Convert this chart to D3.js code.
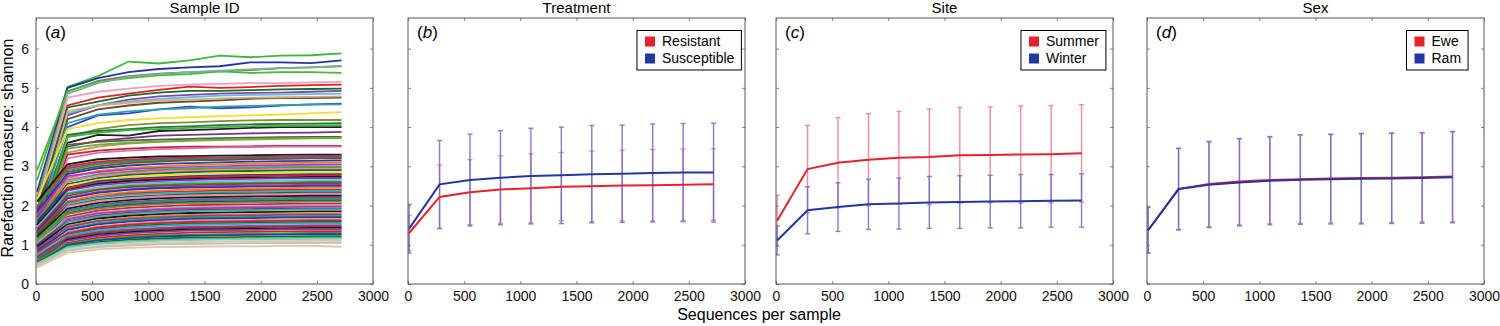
<!DOCTYPE html>
<html>
<head>
<meta charset="utf-8">
<script src="https://cdn.jsdelivr.net/npm/d3@7"></script>
<style>
  body { margin: 0; background: #fff; }
  svg { display: block; font-family: "Liberation Sans", Arial, sans-serif; }
</style>
</head>
<body>
<div id="chart"></div>
<script>
// Sequences per sample (rarefaction depths)
const depths = [10, 281, 552, 823, 1094, 1365, 1636, 1907, 2178, 2449, 2720];
const xTicks = [0, 500, 1000, 1500, 2000, 2500, 3000];
const yTicks = [0, 1, 2, 3, 4, 5, 6];

// (a) one curve per sample ID
const sampleCurves = [
  [2.65, 5.02, 5.30, 5.67, 5.62, 5.70, 5.82, 5.78, 5.82, 5.83, 5.88],
  [2.35, 5.00, 5.25, 5.40, 5.48, 5.52, 5.55, 5.65, 5.65, 5.63, 5.70],
  [2.20, 4.90, 5.18, 5.30, 5.36, 5.40, 5.42, 5.45, 5.50, 5.52, 5.55],
  [2.90, 4.92, 5.15, 5.25, 5.32, 5.35, 5.42, 5.38, 5.40, 5.40, 5.38],
  [2.10, 4.85, 5.12, 5.28, 5.35, 5.40, 5.44, 5.47, 5.50, 5.52, 5.56],
  [1.90, 4.75, 4.90, 4.98, 5.05, 5.08, 5.10, 5.12, 5.12, 5.14, 5.15],
  [1.80, 4.55, 4.75, 4.85, 4.95, 5.03, 5.00, 5.02, 5.05, 5.07, 5.08],
  [1.90, 4.50, 4.65, 4.80, 4.88, 4.92, 4.92, 4.94, 4.96, 4.97, 4.98],
  [1.70, 4.30, 4.55, 4.70, 4.78, 4.82, 4.85, 4.87, 4.88, 4.90, 4.92],
  [1.60, 4.35, 4.55, 4.65, 4.72, 4.76, 4.80, 4.82, 4.83, 4.84, 4.85],
  [1.80, 4.20, 4.45, 4.55, 4.62, 4.65, 4.68, 4.72, 4.74, 4.74, 4.75],
  [1.50, 4.40, 4.55, 4.62, 4.68, 4.70, 4.73, 4.75, 4.76, 4.77, 4.78],
  [1.70, 4.00, 4.30, 4.35, 4.45, 4.52, 4.48, 4.50, 4.55, 4.58, 4.60],
  [1.50, 4.10, 4.32, 4.40, 4.45, 4.48, 4.52, 4.54, 4.56, 4.57, 4.58],
  [2.15, 3.95, 4.10, 4.18, 4.22, 4.25, 4.28, 4.30, 4.32, 4.35, 4.38],
  [1.60, 3.75, 3.95, 4.05, 4.10, 4.12, 4.15, 4.17, 4.18, 4.18, 4.18],
  [1.40, 3.80, 3.90, 3.95, 4.00, 4.02, 4.05, 4.07, 4.08, 4.09, 4.10],
  [1.50, 3.60, 3.80, 3.78, 3.90, 3.92, 3.95, 3.98, 4.00, 4.00, 4.00],
  [1.30, 3.75, 3.85, 3.92, 3.95, 3.98, 4.00, 4.02, 4.03, 4.04, 4.05],
  [1.20, 3.50, 3.65, 3.72, 3.78, 3.80, 3.82, 3.84, 3.85, 3.86, 3.88],
  [1.30, 3.55, 3.62, 3.66, 3.68, 3.70, 3.72, 3.73, 3.74, 3.75, 3.75],
  [1.10, 3.35, 3.50, 3.58, 3.62, 3.65, 3.67, 3.68, 3.70, 3.71, 3.72],
  [1.20, 3.45, 3.55, 3.60, 3.63, 3.66, 3.68, 3.70, 3.71, 3.72, 3.72],
  [1.00, 3.30, 3.40, 3.45, 3.48, 3.50, 3.50, 3.51, 3.52, 3.52, 3.52],
  [1.10, 3.20, 3.35, 3.40, 3.44, 3.46, 3.48, 3.49, 3.50, 3.50, 3.50],
  [2.10, 3.05, 3.18, 3.22, 3.25, 3.26, 3.27, 3.28, 3.29, 3.30, 3.30],
  [1.95, 3.00, 3.12, 3.17, 3.20, 3.23, 3.22, 3.24, 3.25, 3.26, 3.27],
  [1.80, 2.95, 3.08, 3.14, 3.18, 3.20, 3.22, 3.23, 3.24, 3.25, 3.25],
  [2.00, 2.90, 3.05, 3.12, 3.15, 3.17, 3.18, 3.20, 3.20, 3.21, 3.22],
  [1.70, 2.85, 3.00, 3.08, 3.12, 3.15, 3.16, 3.18, 3.19, 3.20, 3.20],
  [1.85, 2.80, 2.95, 3.02, 3.06, 3.08, 3.10, 3.12, 3.13, 3.14, 3.15],
  [1.60, 2.70, 2.88, 2.96, 3.00, 3.03, 3.05, 3.07, 3.08, 3.09, 3.10],
  [1.75, 2.75, 2.85, 2.92, 2.96, 2.98, 3.00, 3.02, 3.03, 3.04, 3.05],
  [1.50, 2.65, 2.80, 2.87, 2.92, 2.95, 2.97, 2.98, 2.99, 3.00, 3.00],
  [1.65, 2.60, 2.78, 2.85, 2.90, 2.92, 2.94, 2.95, 2.96, 2.97, 2.97],
  [1.45, 2.62, 2.75, 2.82, 2.86, 2.88, 2.90, 2.91, 2.92, 2.93, 2.93],
  [1.55, 2.55, 2.70, 2.78, 2.82, 2.85, 2.87, 2.88, 2.89, 2.90, 2.90],
  [1.40, 2.50, 2.65, 2.73, 2.77, 2.80, 2.82, 2.83, 2.84, 2.85, 2.85],
  [1.60, 2.45, 2.62, 2.68, 2.72, 2.75, 2.77, 2.78, 2.79, 2.80, 2.80],
  [1.35, 2.45, 2.58, 2.65, 2.70, 2.72, 2.74, 2.75, 2.76, 2.77, 2.77],
  [1.50, 2.40, 2.55, 2.62, 2.66, 2.68, 2.70, 2.71, 2.72, 2.73, 2.73],
  [1.30, 2.38, 2.52, 2.58, 2.62, 2.65, 2.67, 2.68, 2.69, 2.70, 2.70],
  [1.45, 2.32, 2.47, 2.54, 2.58, 2.60, 2.62, 2.63, 2.64, 2.65, 2.65],
  [1.25, 2.30, 2.42, 2.50, 2.53, 2.56, 2.57, 2.58, 2.59, 2.60, 2.60],
  [1.40, 2.25, 2.40, 2.47, 2.50, 2.52, 2.54, 2.55, 2.56, 2.57, 2.57],
  [1.20, 2.20, 2.35, 2.42, 2.46, 2.49, 2.50, 2.51, 2.52, 2.53, 2.53],
  [1.35, 2.18, 2.32, 2.40, 2.44, 2.46, 2.47, 2.48, 2.49, 2.50, 2.50],
  [1.15, 2.12, 2.27, 2.34, 2.38, 2.41, 2.42, 2.43, 2.44, 2.45, 2.45],
  [1.30, 2.08, 2.22, 2.30, 2.34, 2.36, 2.38, 2.39, 2.40, 2.40, 2.40],
  [1.10, 2.05, 2.20, 2.27, 2.31, 2.33, 2.34, 2.35, 2.36, 2.37, 2.37],
  [1.25, 2.00, 2.15, 2.22, 2.26, 2.29, 2.30, 2.31, 2.32, 2.33, 2.33],
  [1.05, 1.98, 2.12, 2.19, 2.23, 2.26, 2.27, 2.28, 2.29, 2.30, 2.30],
  [1.20, 1.92, 2.07, 2.14, 2.18, 2.21, 2.22, 2.23, 2.24, 2.25, 2.25],
  [1.00, 1.88, 2.02, 2.09, 2.13, 2.16, 2.17, 2.18, 2.19, 2.20, 2.20],
  [1.15, 1.85, 2.00, 2.06, 2.10, 2.13, 2.14, 2.15, 2.16, 2.17, 2.17],
  [0.95, 1.80, 1.95, 2.02, 2.06, 2.09, 2.10, 2.11, 2.12, 2.13, 2.13],
  [1.10, 1.78, 1.92, 1.99, 2.03, 2.06, 2.07, 2.08, 2.09, 2.10, 2.10],
  [0.92, 1.72, 1.87, 1.94, 1.98, 2.01, 2.02, 2.03, 2.04, 2.05, 2.05],
  [1.05, 1.68, 1.82, 1.89, 1.93, 1.96, 1.97, 1.98, 1.99, 2.00, 2.00],
  [0.88, 1.65, 1.80, 1.86, 1.90, 1.93, 1.94, 1.95, 1.96, 1.97, 1.97],
  [1.00, 1.60, 1.75, 1.82, 1.86, 1.89, 1.90, 1.91, 1.92, 1.93, 1.93],
  [0.85, 1.58, 1.72, 1.79, 1.83, 1.86, 1.87, 1.88, 1.89, 1.90, 1.90],
  [0.95, 1.52, 1.67, 1.74, 1.78, 1.81, 1.82, 1.83, 1.84, 1.85, 1.85],
  [0.80, 1.48, 1.62, 1.69, 1.73, 1.76, 1.77, 1.78, 1.79, 1.80, 1.80],
  [0.90, 1.45, 1.60, 1.66, 1.70, 1.73, 1.74, 1.75, 1.76, 1.77, 1.77],
  [0.78, 1.40, 1.55, 1.62, 1.66, 1.69, 1.70, 1.71, 1.72, 1.73, 1.73],
  [0.85, 1.38, 1.52, 1.59, 1.63, 1.66, 1.67, 1.68, 1.69, 1.70, 1.70],
  [0.72, 1.33, 1.47, 1.54, 1.58, 1.61, 1.62, 1.63, 1.64, 1.65, 1.65],
  [0.80, 1.30, 1.44, 1.51, 1.55, 1.58, 1.59, 1.60, 1.61, 1.62, 1.62],
  [0.68, 1.26, 1.40, 1.47, 1.51, 1.54, 1.55, 1.56, 1.57, 1.58, 1.58],
  [0.75, 1.24, 1.37, 1.44, 1.48, 1.51, 1.52, 1.53, 1.54, 1.55, 1.55],
  [0.62, 1.20, 1.33, 1.39, 1.43, 1.46, 1.47, 1.48, 1.49, 1.50, 1.50],
  [0.70, 1.17, 1.30, 1.36, 1.40, 1.43, 1.44, 1.45, 1.46, 1.47, 1.47],
  [0.58, 1.13, 1.26, 1.32, 1.36, 1.39, 1.40, 1.41, 1.42, 1.43, 1.43],
  [0.65, 1.10, 1.23, 1.29, 1.33, 1.36, 1.37, 1.38, 1.39, 1.40, 1.40],
  [0.55, 1.05, 1.18, 1.24, 1.28, 1.31, 1.32, 1.33, 1.34, 1.35, 1.35],
  [0.60, 1.02, 1.14, 1.20, 1.24, 1.26, 1.27, 1.28, 1.29, 1.30, 1.30],
  [0.50, 1.00, 1.11, 1.17, 1.21, 1.23, 1.24, 1.25, 1.26, 1.27, 1.27],
  [0.55, 0.97, 1.07, 1.13, 1.16, 1.18, 1.19, 1.20, 1.21, 1.22, 1.22],
  [0.47, 0.95, 1.04, 1.09, 1.12, 1.14, 1.15, 1.16, 1.17, 1.18, 1.18],
  [0.52, 0.92, 1.02, 1.07, 1.10, 1.12, 1.13, 1.14, 1.14, 1.15, 1.15],
  [0.45, 0.88, 0.97, 1.02, 1.05, 1.07, 1.08, 1.09, 1.09, 1.10, 1.10],
  [0.50, 0.85, 0.94, 0.98, 1.01, 1.02, 1.03, 1.04, 1.04, 1.05, 1.05],
  [0.42, 0.80, 0.88, 0.92, 0.94, 0.95, 0.96, 0.96, 0.97, 0.97, 0.95]
];
const sampleColors = [
  "#3cb83c", "#2233aa", "#8a7a2a", "#44bb33", "#7ab0a0", "#f0a0c0", "#e02020", "#1a6a2a",
  "#7a4ab0", "#70b8d8", "#6a4a2a", "#c8b080", "#2a4ac0", "#30a0b0", "#f0e030", "#8a8a30",
  "#1a7a3a", "#202020", "#40b040", "#6a3a8a", "#6a5a2a", "#e88a30", "#50b850", "#c02050",
  "#e070a0",
  "#1a1a1a", "#e02020", "#8040b0", "#30a030", "#7a4a2a", "#2040b0", "#f08020", "#c030c0",
  "#30b0c8", "#8a8a30", "#f080b0", "#1a6a2a", "#f0e020", "#2040b0", "#e02020", "#1a1a1a",
  "#8040b0", "#70b8e0", "#30a030", "#7a4a2a", "#c030c0", "#2040b0", "#f08020", "#e02020",
  "#30b0c8", "#1a6a2a", "#f080b0", "#1a1a1a", "#8040b0", "#30a030", "#2040b0", "#8a8a30",
  "#e02020", "#70b8e0", "#c030c0", "#7a4a2a", "#30b0c8", "#1a1a1a", "#f08020", "#8040b0",
  "#30a030", "#2040b0", "#f080b0", "#e02020", "#1a6a2a", "#30b0c8", "#c030c0", "#7a4a2a",
  "#1a1a1a", "#8040b0", "#e02020", "#30a030", "#2040b0", "#1a6a2a", "#30b0c8", "#90d090",
  "#f0c0a0", "#a0c8e0", "#f0c090"
];

// (b) Treatment
const treatmentGroups = ["Resistant", "Susceptible"];
const resistantMean = [1.30, 2.22, 2.34, 2.41, 2.44, 2.48, 2.49, 2.51, 2.52, 2.53, 2.54];
const resistantSd = [0.45, 0.81, 0.83, 0.86, 0.88, 0.87, 0.90, 0.90, 0.91, 0.91, 0.91];
const susceptibleMean = [1.41, 2.54, 2.65, 2.71, 2.75, 2.77, 2.80, 2.81, 2.83, 2.84, 2.84];
const susceptibleSd = [0.62, 1.12, 1.17, 1.20, 1.22, 1.23, 1.24, 1.24, 1.25, 1.25, 1.26];

// (c) Site
const siteGroups = ["Summer", "Winter"];
const summerMean = [1.61, 2.93, 3.09, 3.17, 3.22, 3.24, 3.28, 3.29, 3.30, 3.31, 3.33];
const summerSd = [0.65, 1.11, 1.15, 1.17, 1.18, 1.22, 1.22, 1.22, 1.24, 1.24, 1.24];
const winterMean = [1.11, 1.88, 1.96, 2.03, 2.05, 2.08, 2.09, 2.10, 2.11, 2.12, 2.13];
const winterSd = [0.37, 0.60, 0.62, 0.64, 0.65, 0.66, 0.67, 0.67, 0.68, 0.67, 0.68];

// (d) Sex
const sexGroups = ["Ewe", "Ram"];
const eweMean = [1.37, 2.42, 2.55, 2.61, 2.65, 2.67, 2.69, 2.70, 2.71, 2.72, 2.74];
const eweSd = [0.58, 1.03, 1.09, 1.10, 1.11, 1.13, 1.13, 1.14, 1.14, 1.14, 1.15];
const ramMean = [1.37, 2.42, 2.53, 2.59, 2.63, 2.66, 2.67, 2.68, 2.69, 2.70, 2.72];
const ramSd = [0.58, 1.04, 1.09, 1.11, 1.12, 1.14, 1.14, 1.15, 1.15, 1.15, 1.16];

const RED = "#e8222a", BLUE = "#2436a0";
const RED_ERR = "#ee7890", BLUE_ERR = "#6a6ad0";

// mise en page
const W = 1500, H = 326;
const plotTop = 18, plotBottom = 284, pw = 337;

const svg = d3.select("#chart").append("svg")
  .attr("width", W).attr("height", H);

const y = d3.scaleLinear().domain([0, 6.78]).range([plotBottom, plotTop]);

const panels = [
  { left: 36, title: "Sample ID", tag: "a", yLabels: true },
  { left: 408, title: "Treatment", tag: "b", groups: treatmentGroups,
    series: [[resistantMean, resistantSd], [susceptibleMean, susceptibleSd]], legendX: 229 },
  { left: 776, title: "Site", tag: "c", groups: siteGroups,
    series: [[summerMean, summerSd], [winterMean, winterSd]], legendX: 245 },
  { left: 1147, title: "Sex", tag: "d", groups: sexGroups,
    series: [[eweMean, eweSd], [ramMean, ramSd]], legendX: 259.5 }
];

panels.forEach(p => {
  const x = d3.scaleLinear().domain([0, 3000]).range([p.left, p.left + pw]);
  const g = svg.append("g");

  // titre du panneau
  g.append("text")
    .attr("x", p.left + pw / 2).attr("y", 12.5)
    .attr("text-anchor", "middle")
    .style("font-size", "15px")
    .text(p.title);

  // axes (ticks vers l'intérieur, style matlab)
  g.append("g").attr("transform", `translate(0,${plotBottom})`)
    .call(d3.axisBottom(x).tickValues(xTicks).tickSize(-3).tickPadding(7).tickFormat(d3.format("d")));
  g.append("g").attr("transform", `translate(0,${plotTop})`)
    .call(d3.axisTop(x).tickValues(xTicks).tickSize(-3).tickFormat(""));
  g.append("g").attr("transform", `translate(${p.left},0)`)
    .call(d3.axisLeft(y).tickValues(yTicks).tickSize(-3).tickPadding(7)
      .tickFormat(p.yLabels ? d3.format("d") : ""));
  g.append("g").attr("transform", `translate(${p.left + pw},0)`)
    .call(d3.axisRight(y).tickValues(yTicks).tickSize(-3).tickFormat(""));

  g.selectAll(".domain").remove();
  g.selectAll(".tick line").attr("stroke", "#888");
  g.selectAll(".tick text").style("font-size", "14px").style("font-family", "inherit").attr("fill", "#111");

  const clipId = "clip-" + p.tag;
  svg.append("clipPath").attr("id", clipId).append("rect")
    .attr("x", p.left).attr("y", plotTop).attr("width", pw).attr("height", plotBottom - plotTop);
  const plot = g.append("g").attr("clip-path", `url(#${clipId})`);

  const line = d3.line().x((d, i) => x(depths[i])).y(d => y(d));

  if (!p.series) {
    plot.selectAll("path.sample")
      .data(sampleCurves)
      .join("path")
      .attr("class", "sample")
      .attr("d", line)
      .attr("fill", "none")
      .attr("stroke", (d, i) => sampleColors[i % sampleColors.length])
      .attr("stroke-width", 1.8);
  } else {
    const errColors = [RED_ERR, BLUE_ERR];
    const lineColors = [RED, BLUE];
    p.series.forEach(([mean, sd], k) => {
      const eg = plot.append("g")
        .attr("stroke", errColors[k]).attr("stroke-width", 1.4).attr("opacity", 0.85);
      mean.forEach((m, i) => {
        const cx = x(depths[i]);
        eg.append("line").attr("x1", cx).attr("x2", cx)
          .attr("y1", y(m - sd[i])).attr("y2", y(m + sd[i]));
        [m - sd[i], m + sd[i]].forEach(v => {
          eg.append("line").attr("x1", cx - 2.5).attr("x2", cx + 2.5)
            .attr("y1", y(v)).attr("y2", y(v));
        });
      });
    });
    p.series.forEach(([mean], k) => {
      plot.append("path").datum(mean)
        .attr("d", line).attr("fill", "none")
        .attr("stroke", lineColors[k]).attr("stroke-width", 2);
    });

    // légende
    const lg = g.append("g").attr("transform", `translate(${p.left + p.legendX},30.5)`);
    const box = lg.append("rect").attr("height", 39.5).attr("fill", "#fff")
      .attr("stroke", "#000").attr("stroke-width", 1);
    let maxW = 0;
    p.groups.forEach((name, k) => {
      lg.append("rect").attr("x", 8).attr("y", 6 + k * 17).attr("width", 10).attr("height", 10)
        .attr("fill", lineColors[k]);
      const t = lg.append("text").attr("x", 25).attr("y", 15.5 + k * 17)
        .style("font-size", "14px").text(name);
      maxW = Math.max(maxW, t.node().getComputedTextLength());
    });
    box.attr("width", 25 + maxW + 7);
  }

  // cadre
  g.append("rect")
    .attr("x", p.left).attr("y", plotTop).attr("width", pw).attr("height", plotBottom - plotTop)
    .attr("fill", "none").attr("stroke", "#555").attr("stroke-width", 1);

  // étiquette (a), (b)...
  const lab = g.append("text").attr("x", p.left + 9).attr("y", 38).style("font-size", "17px");
  lab.append("tspan").text("(");
  lab.append("tspan").style("font-style", "italic").text(p.tag);
  lab.append("tspan").text(")");
});

// titres des axes
svg.append("text")
  .attr("x", 759).attr("y", 320)
  .attr("text-anchor", "middle")
  .style("font-size", "16px")
  .text("Sequences per sample");

svg.append("text")
  .attr("transform", "translate(13,148) rotate(-90)")
  .attr("text-anchor", "middle")
  .style("font-size", "16px")
  .text("Rarefaction measure: shannon");
</script>
</body>
</html>
